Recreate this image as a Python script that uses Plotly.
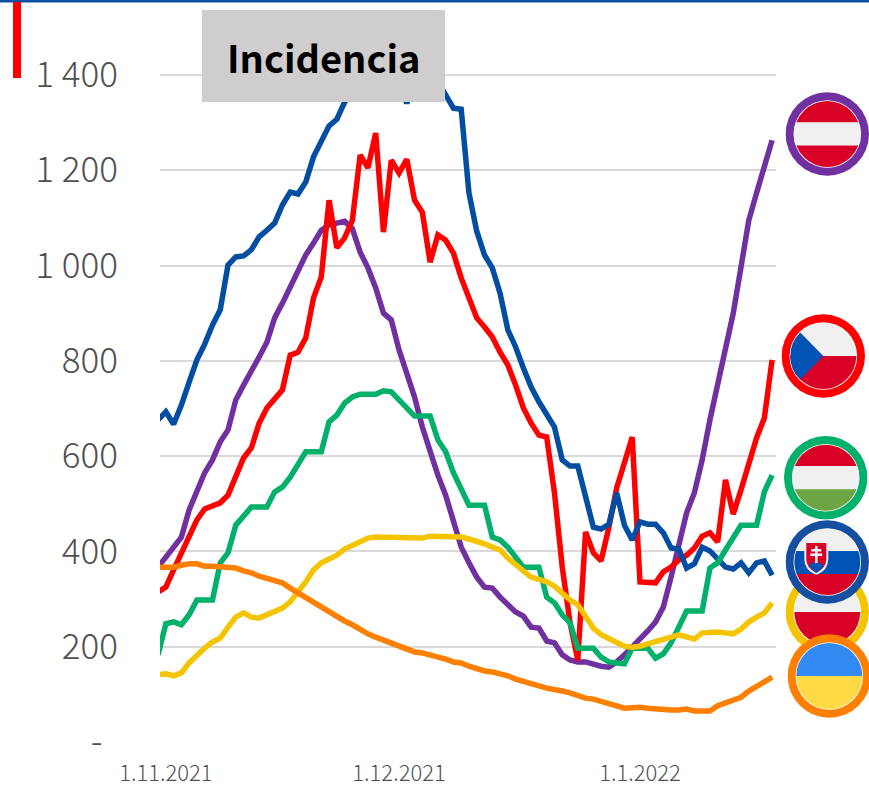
import base64
import pandas as pd
import plotly.graph_objects as go

W, H = 869, 785
dates = pd.date_range("2021-10-31", periods=80, freq="D")

austria = [367,388,409,430,487,529,565,592,630,655,718,749,776,808,839,890,921,953,984,1022,1047,1074,1085,1089,1093,1077,1028,995,953,900,886,823,770,724,661,606,560,518,466,409,376,346,325,323,304,288,273,264,241,239,212,208,183,172,168,168,162,159,157,168,183,199,218,233,252,283,346,418,481,523,592,676,753,829,900,997,1095,1152,1207,1263]
czechia = [315,325,361,397,430,466,489,497,502,518,560,596,617,669,701,722,739,812,818,848,932,976,1137,1037,1058,1095,1232,1205,1278,1070,1221,1194,1223,1137,1112,1007,1064,1053,1026,974,932,890,871,850,818,791,749,701,669,644,640,523,367,250,172,441,397,380,451,533,586,640,336,336,334,357,367,382,392,407,432,439,420,550,478,529,586,638,680,802]
slovakia = [676,693,667,707,755,802,835,875,907,1001,1018,1020,1033,1060,1074,1089,1127,1154,1150,1175,1228,1263,1293,1307,1343,1364,1385,1406,1419,1410,1393,1372,1341,1379,1410,1406,1385,1358,1330,1328,1152,1072,1022,995,942,865,829,785,745,714,690,661,592,579,579,514,451,447,457,523,455,424,462,457,457,439,407,405,365,374,409,401,382,367,363,376,355,376,380,350]
hungary = [183,248,252,246,267,298,298,298,376,397,455,476,493,493,493,525,535,556,581,609,609,609,672,686,711,724,730,730,730,737,735,718,701,684,684,684,634,609,565,533,497,497,497,430,424,409,388,367,367,367,304,292,267,250,197,197,197,178,168,166,164,197,197,197,176,185,208,241,275,275,275,365,376,403,430,455,455,455,525,560]
poland = [141,143,139,145,166,183,197,210,218,241,262,271,262,260,267,273,281,294,313,336,361,376,384,392,405,413,422,428,430,430,428,430,430,428,428,432,432,432,432,430,426,422,416,409,403,386,371,359,346,342,336,327,313,298,288,262,239,225,216,208,201,199,201,206,210,216,220,225,220,216,229,231,231,229,227,237,252,262,271,292]
ukraine = [367,367,367,371,374,374,369,369,367,367,365,359,355,348,344,338,334,323,313,302,292,283,275,264,254,246,235,227,220,214,208,201,193,189,187,183,178,174,168,166,159,153,149,147,143,139,132,128,122,118,113,111,107,103,97,92,90,86,80,76,71,73,73,71,69,69,67,67,69,65,65,65,76,82,88,94,107,118,126,136]

series = [
    ("Rakúsko", austria, "#7030A0"),
    ("Česko", czechia, "#FF0000"),
    ("Slovensko", slovakia, "#034EA2"),
    ("Maďarsko", hungary, "#00B06B"),
    ("Poľsko", poland, "#F5C400"),
    ("Ukrajina", ukraine, "#FF7F00"),
]
y_ticks = [0, 200, 400, 600, 800, 1000, 1200, 1400]
y_labels = ["-\u00a0\u00a0", "200", "400", "600", "800", "1 000", "1 200", "1 400"]
x_ticks = ["2021-11-01", "2021-12-01", "2022-01-01"]
x_labels = ["1.11.2021", "1.12.2021", "1.1.2022"]
title_text = "Incidencia"

RED, WHITE, BLUE, GREEN = "#D80027", "#F0F0F0", "#0052B4", "#6DA544"

def badge(ring, inner):
    svg = (
        '<svg xmlns="http://www.w3.org/2000/svg" width="168" height="168" viewBox="0 0 84 84">'
        '<defs><clipPath id="c"><circle cx="42" cy="42" r="33"/></clipPath></defs>'
        f'<circle cx="42" cy="42" r="41.7" fill="{ring}"/>'
        '<circle cx="42" cy="42" r="33.8" fill="#ffffff"/>'
        f'<g clip-path="url(#c)">{inner}</g></svg>'
    )
    return "data:image/svg+xml;base64," + base64.b64encode(svg.encode()).decode()

cz = (f'<rect width="84" height="42" fill="{WHITE}"/><rect y="42" width="84" height="42" fill="{RED}"/>'
      f'<path d="M0 0 L18.5 18 L42 42 L18.5 66 L0 84 Z" fill="{BLUE}"/>')
sk = (f'<rect width="84" height="31" fill="{WHITE}"/><rect y="31" width="84" height="23" fill="{BLUE}"/>'
      f'<rect y="54" width="84" height="30" fill="{RED}"/>'
      f'<path d="M19 21 H43 V39 Q43 50 31 55 Q19 50 19 39 Z" fill="{WHITE}"/>'
      f'<path d="M21 23 H41 V39 Q41 48 31 53 Q21 48 21 39 Z" fill="{RED}"/>'
      f'<path d="M23.5 46 Q27 41 31 43 Q35 41 38.5 46 Q35 50 31 53 Q27 50 23.5 46 Z" fill="{BLUE}"/>'
      f'<path d="M29.7 26 H32.3 V29 H36 V31.4 H32.3 V33.6 H37 V36 H32.3 V43 H29.7 V36 H25 V33.6 H29.7 V31.4 H26 V29 H29.7 Z" fill="{WHITE}"/>')
pl = f'<rect width="84" height="42" fill="{WHITE}"/><rect y="42" width="84" height="42" fill="{RED}"/>'
ua = '<rect width="84" height="42" fill="#338AF3"/><rect y="42" width="84" height="42" fill="#FFDA44"/>'
three = lambda a, b, c: (f'<rect width="84" height="30.5" fill="{a}"/><rect y="30.5" width="84" height="23" fill="{b}"/>'
                         f'<rect y="53.5" width="84" height="31" fill="{c}"/>')

badges = [
    (827.3, 134, "#7030A0", three(RED, WHITE, RED)),
    (823.3, 356, "#FF0000", cz),
    (825.7, 477.7, "#00B06B", three(RED, WHITE, GREEN)),
    (827.3, 612, "#F5C400", pl),
    (827.3, 562, "#164FA0", sk),
    (829.3, 676, "#FF7F00", ua),
]

fig = go.Figure()
for name, vals, color in series:
    assert len(vals) == len(dates), name
    fig.add_trace(go.Scatter(x=dates, y=vals, mode="lines", name=name,
                             line=dict(color=color, width=5.5, shape="linear"),
                             hoverinfo="skip"))

images = [dict(source=badge(ring, inner), xref="paper", yref="paper",
               x=(cx - 42) / W, y=1 - (cy - 42) / H, sizex=84 / W, sizey=84 / H,
               xanchor="left", yanchor="top", sizing="stretch", layer="above")
          for cx, cy, ring, inner in badges]

def rect(x0, y0, x1, y1, color):
    return dict(type="rect", xref="paper", yref="paper", x0=x0 / W, x1=x1 / W,
                y0=1 - y1 / H, y1=1 - y0 / H, fillcolor=color, line_width=0, layer="above")

FONT = "Noto Sans CJK SC"
fig.update_layout(
    width=W, height=H, margin=dict(l=0, r=0, t=0, b=0), autosize=False,
    paper_bgcolor="white", plot_bgcolor="white", showlegend=False,
    font=dict(family=FONT, color="#505050"),
    xaxis=dict(domain=[160 / W, 776 / W], type="date", automargin=False,
               range=["2021-10-31 06:00", "2022-01-18 12:00"],
               tickmode="array", tickvals=x_ticks, ticktext=x_labels,
               tickangle=0, showgrid=False, zeroline=False, showline=False, ticks="",
               tickfont=dict(size=22, family=FONT, color="#505050", weight=300), ticklabelstandoff=16),
    yaxis=dict(domain=[43 / H, 783 / H], range=[0, 1553], automargin=False,
               tickmode="array", tickvals=y_ticks, ticktext=y_labels,
               showgrid=True, gridcolor="#D9D9D9", gridwidth=2, zeroline=False,
               showline=False, ticks="",
               tickfont=dict(size=35, family=FONT, color="#505050", weight=300), ticklabelstandoff=41),
    shapes=[rect(0, 0, W, 2.5, "#0B4EA2"), rect(13, 2, 21, 78, "#FF0000"),
            rect(202, 10, 445, 102, "#CFCDCE")],
    images=images,
    annotations=[dict(text=f"<b>{title_text}</b>", xref="paper", yref="paper",
                      x=323.5 / W, y=1 - 57 / H, showarrow=False, xanchor="center", yanchor="middle",
                      font=dict(size=38, family=FONT, color="#000000"))],
)
fig.write_html("out.html", config=dict(displayModeBar=False),
               post_script="document.body.style.margin='0';document.documentElement.style.overflow='hidden';")
